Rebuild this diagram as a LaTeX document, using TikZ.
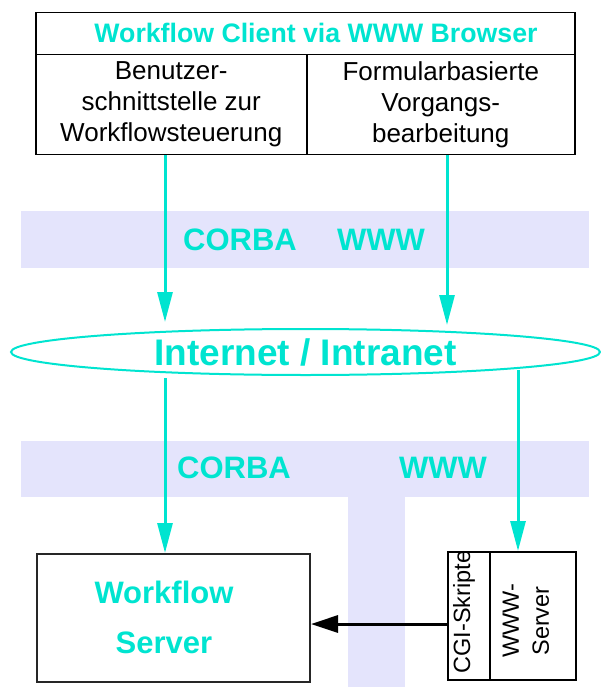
\documentclass[tikz,border=0pt]{standalone}
\usepackage{fontspec}
\setmainfont{Liberation Sans}
\usetikzlibrary{arrows.meta,shapes.geometric}
\definecolor{teal1}{RGB}{0,228,208}
\definecolor{band}{RGB}{228,228,252}
\tikzset{
  boxline/.style={draw=black, line width=1.5pt, inner sep=0pt},
  celltext/.style={align=center, font=\fontsize{26}{31}\selectfont},
  bigteal/.style={text=teal1, font=\bfseries\fontsize{31}{50}\selectfont, align=center},
  tarrow/.style={draw=teal1, line width=3pt, -{Triangle[length=30pt,width=15pt]}},
  barrow/.style={draw=black, line width=3pt, -{Triangle[length=27pt,width=17pt]}},
  rottext/.style={rotate=90, align=center, font=\fontsize{23.5}{30}\selectfont}
}
\begin{document}
\begin{tikzpicture}[x=1pt,y=-1pt]
\useasboundingbox (0,0) rectangle (601,687);
% bands
\fill[band] (21,211) rectangle (589,268);
\fill[band] (21,441) rectangle (589,497);
\fill[band] (348,497) rectangle (405,687);
% top box
\node[boxline, anchor=north west, minimum width=539pt, minimum height=42pt] (title) at (35,12) {};
\node[bigteal, font=\bfseries\fontsize{26.7}{30}\selectfont] (titletext) at (316,33) {Workflow Client via WWW Browser};
\node[boxline, anchor=north west, minimum width=271pt, minimum height=100pt, celltext] (cell1) at (35,54) {Benutzer-\\schnittstelle zur\\Workflowsteuerung};
\node[boxline, anchor=north west, minimum width=268pt, minimum height=100pt, celltext] (cell2) at (306,54) {Formularbasierte\\Vorgangs-\\bearbeitung};
% band labels
\node[bigteal] (corba1) at (240,240) {CORBA};
\node[bigteal] (www1) at (381,240) {WWW};
\node[bigteal] (corba2) at (234,468) {CORBA};
\node[bigteal] (www2) at (443,468) {WWW};
% network
\node[ellipse, draw=teal1, line width=2pt, minimum width=589pt, minimum height=46pt, inner sep=0pt,
      text=teal1, font=\bfseries\fontsize{37}{40}\selectfont] (net) at (305.5,352) {Internet / Intranet};
% servers
\node[draw=black!85, line width=2pt, anchor=north west, minimum width=273pt, minimum height=128pt] (wfs) at (36,553) {};
\node[bigteal] (wfstext) at (164,617) {Workflow\\Server};
\node[boxline, anchor=north west, minimum width=42pt, minimum height=128pt] (cgi) at (447,551) {};
\node[rottext] (cgitext) at (464,612) {CGI-Skripte};
\node[boxline, anchor=north west, minimum width=86pt, minimum height=128pt] (wwws) at (489,551) {};
\node[rottext] (wwwstext) at (526,621) {WWW-\\Server};
% helper coordinates
\coordinate (xL) at (165,0);
\coordinate (xR) at (447,0);
\coordinate (xW) at (518,0);
\coordinate (yA) at (0,624);
% connectors
\draw[tarrow, shorten >=6pt] (cell1.south -| xL) -- (net.north -| xL);
\draw[tarrow, shorten >=3pt] (cell2.south -| xR) -- (net.north -| xR);
\draw[tarrow, shorten <=2pt] (net.south -| xL) -- (wfs.north -| xL);
\draw[tarrow] ([yshift=6pt]net.south -| xW) -- (wwws.north -| xW);
\draw[barrow] (cgi.west |- yA) -- (wfs.east |- yA);
\end{tikzpicture}
\end{document}
